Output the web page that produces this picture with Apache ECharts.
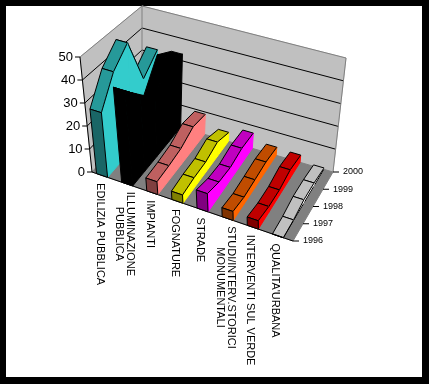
<!DOCTYPE html>
<html>
<head>
<meta charset="utf-8">
<style>
  html, body { margin: 0; padding: 0; background: #000; }
  #chart { width: 429px; height: 384px; }
</style>
<script src="https://cdn.jsdelivr.net/npm/echarts@6/dist/echarts.min.js"></script>
</head>
<body>
<div id="chart"></div>
<script>
const categories = ['EDILIZIA PUBBLICA', 'ILLUMINAZIONE\nPUBBLICA', 'IMPIANTI', 'FOGNATURE', 'STRADE',
  'STUDI/INTERV.STORICI\nMONUMENTALI', 'INTERVENTI SUL VERDE', "QUALITA'URBANA"];
const years = ['1996', '1997', '1998', '1999', '2000'];
const valueTicks = [0, 10, 20, 30, 40, 50];
const edilizia = [28, 40, 47, 25, 32];
const illuminazione = [41, 33, 25.5, 37.5, 33];
const impianti = [5.5, 6, 7, 10, 9];
const fognature = [3.5, 4.3, 4.5, 6.5, 4];
const strade = [7.7, 6, 5.5, 7, 6.8];
const studi = [3.8, 3, 3.5, 4.2, 3.6];
const interventi = [3.5, 2.5, 2.5, 4, 3.2];
const qualita = [0, 0.3, 1.6, 1.5, 0.6];
const seriesValues = [edilizia, illuminazione, impianti, fognature, strade, studi, interventi, qualita];

// side, top and front cap colours of each ribbon
const colors = [
  ['#33CCCC', '#269999', '#1A6666'],
  ['#000000', '#000000', '#000000'],
  ['#FF8080', '#BF6060', '#804040'],
  ['#FFFF00', '#C0C000', '#808000'],
  ['#FF00FF', '#C000C0', '#800080'],
  ['#FF6600', '#C04C00', '#803300'],
  ['#FF0000', '#C00000', '#800000'],
  ['#FFFFFF', '#C0C0C0', '#808080']
];

// screen corners of the 3D box: [u][v][w]
const box = {
  '000': [92, 172], '001': [80, 57],
  '010': [142, 116], '011': [142, 6],
  '100': [293, 241], '101': [294, 121],
  '110': [333, 172], '111': [346, 58]
};
const lerp = (a, b, t) => [a[0] + (b[0] - a[0]) * t, a[1] + (b[1] - a[1]) * t];
function project(u, v, w) {
  const bottom = lerp(lerp(box['000'], box['100'], u), lerp(box['010'], box['110'], u), v);
  const top = lerp(lerp(box['001'], box['101'], u), lerp(box['011'], box['111'], u), v);
  return lerp(bottom, top, w);
}

const fontName = 'Liberation Sans';
const measure = document.createElement('canvas').getContext('2d');
function textWidth(s, size) {
  measure.font = size + 'px "' + fontName + '"';
  return Math.max.apply(null, s.split('\n').map(l => measure.measureText(l).width));
}
const poly = (points, fill, stroke) => ({
  type: 'polygon',
  shape: { points: points },
  style: { fill: fill, stroke: stroke || fill, lineWidth: 1 }
});
const line = (a, b, stroke, width) => ({
  type: 'line',
  shape: { x1: a[0], y1: a[1], x2: b[0], y2: b[1] },
  style: { stroke: stroke, lineWidth: width || 1 }
});
const text = (x, y, s, size, align, vAlign, rotation) => ({
  type: 'text',
  x: x, y: y, rotation: rotation || 0,
  style: { text: s, font: size + 'px "' + fontName + '"', fill: '#000', align: align, verticalAlign: vAlign }
});
const heightOf = (api, cs, value) => 1 - (api.coord([0, value])[1] - cs.y) / cs.height;

function renderWalls(params, api) {
  const cs = params.coordSys;
  const kids = [
    poly([project(0, 0, 1), project(0, 1, 1), project(0, 1, 0), project(0, 0, 0)], '#C0C0C0'),
    poly([project(0, 1, 1), project(1, 1, 1), project(1, 1, 0), project(0, 1, 0)], '#C0C0C0'),
    poly([project(0, 0, 0), project(0, 1, 0), project(1, 1, 0), project(1, 0, 0)], '#808080')
  ];
  valueTicks.forEach(t => {
    const w = heightOf(api, cs, t);
    const a = project(0, 0, w), b = project(0, 1, w), c = project(1, 1, w);
    if (t > 0) {
      const gridColor = t === 50 ? '#808080' : '#000';
      kids.push(line(a, b, gridColor), line(b, c, gridColor));
    }
    kids.push(line([a[0] - 5, a[1]], a, '#000'));
    kids.push(text(a[0] - 7, a[1], String(t), 13, 'right', 'middle'));
  });
  kids.push(line(project(0, 1, 0), project(0, 1, 1), '#808080'));
  kids.push(line(project(1, 1, 0), project(1, 1, 1), '#808080'));
  kids.push(line(project(0, 0, 0), project(0, 0, 1), '#000'));
  kids.push(line(project(0, 0, 0), project(1, 0, 0), '#000'));
  years.forEach((y, i) => {
    const p = project(1, i / (years.length - 1), 0);
    kids.push(line(p, [p[0] + 6, p[1]], '#000'));
    kids.push(text(p[0] + 10, p[1], y, 9, 'left', 'middle'));
  });
  categories.forEach((c, i) => {
    const x = api.coord([i, 0])[0];
    const p = project((x - cs.x) / cs.width - 0.025, 0, 0);
    kids.push(text(p[0], p[1] + 8.5 + textWidth(c, 11) / 2, c, 11, 'center', 'middle', -Math.PI / 2));
  });
  return { type: 'group', children: kids };
}

// one ribbon segment, from year index j+1 (back) to j (front)
function renderSegment(params, api) {
  const cs = params.coordSys;
  const i = api.value(0), j = api.value(1);
  const last = years.length - 1;
  const x = (api.coord([i, 0])[0] - cs.x) / cs.width;
  const band = api.size([1, 0])[0] / cs.width;
  const u0 = x - 0.32 * band, u1 = x + 0.12 * band;
  const v0 = j / last, v1 = (j + 1) / last;
  const w0 = heightOf(api, cs, api.value(2)), w1 = heightOf(api, cs, api.value(3));
  const c = colors[i];
  const kids = [
    poly([project(u0, v1, w1), project(u1, v1, w1), project(u1, v0, w0), project(u0, v0, w0)], c[1], '#000'),
    poly([project(u1, v1, w1), project(u1, v1, 0), project(u1, v0, 0), project(u1, v0, w0)], c[0]),
    line(project(u1, v1, w1), project(u1, v0, w0), '#000')
  ];
  // the white ribbon needs its foot drawn, it would melt into the page otherwise
  if (i === categories.length - 1) {
    kids.push(line(project(u1, v1, 0), project(u1, v0, 0), '#000'));
  }
  if (j === 0) {
    kids.push(poly([project(u0, 0, w0), project(u1, 0, w0), project(u1, 0, 0), project(u0, 0, 0)], c[2], '#000'));
  }
  return { type: 'group', children: kids };
}

const ribbons = seriesValues.map((values, i) => {
  const segments = [];
  for (let j = values.length - 2; j >= 0; j--) {
    segments.push([i, j, values[j], values[j + 1]]);
  }
  return {
    type: 'custom',
    name: categories[i],
    coordinateSystem: 'cartesian2d',
    z: 3 + i,
    silent: true,
    animation: false,
    clip: false,
    renderItem: renderSegment,
    encode: { x: 0, y: 2 },
    data: segments
  };
});

const chart = echarts.init(document.getElementById('chart'), null, { renderer: 'canvas' });
chart.setOption({
  backgroundColor: '#000',
  animation: false,
  grid: { show: true, left: 6, right: 7, top: 6, bottom: 7, backgroundColor: '#fff', borderWidth: 0 },
  xAxis: { type: 'category', data: categories, show: false },
  yAxis: { type: 'value', min: 0, max: 50, interval: 10, show: false },
  series: [{
    type: 'custom',
    coordinateSystem: 'cartesian2d',
    z: 2,
    silent: true,
    animation: false,
    clip: false,
    renderItem: renderWalls,
    encode: { x: 0, y: 1 },
    data: [[0, 0]]
  }].concat(ribbons)
});
</script>
</body>
</html>
